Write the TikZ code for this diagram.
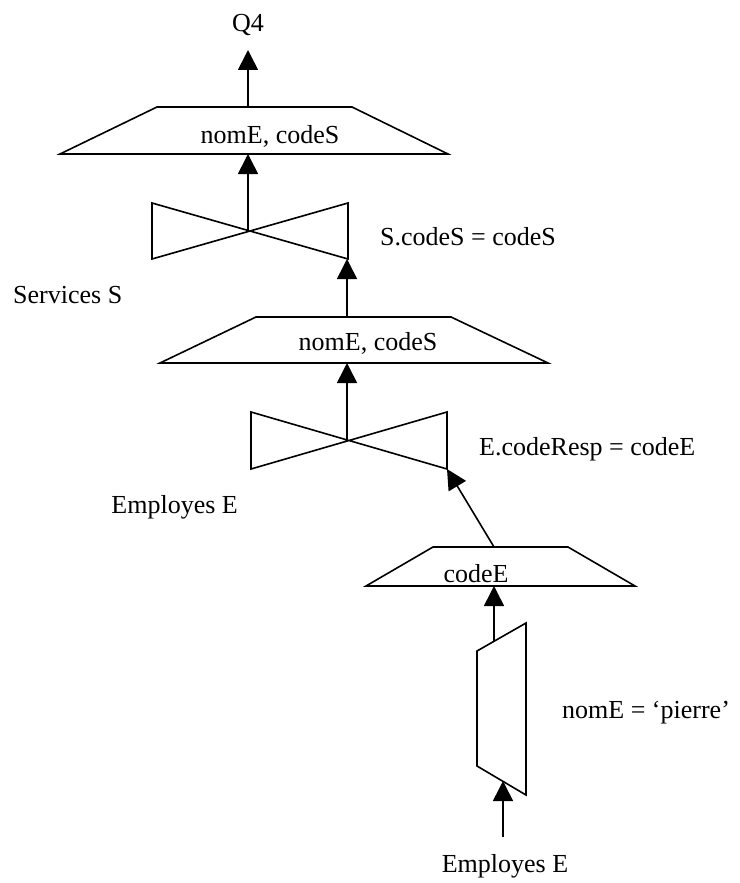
\documentclass[tikz,border=0pt]{standalone}
\usepackage{fontspec}
\setmainfont{Liberation Serif}
\usetikzlibrary{arrows.meta}
\tikzset{
    oplabel/.style = {inner sep=0, font=\fontsize{26}{31}\selectfont, text=black},
    opshape/.style = {line width=1.6pt, draw=black, fill=white, line join=miter},
    edgea/.style = {-{Triangle[length=20pt,width=20pt]}, line width=1.6pt, black}, % flow
}

\begin{document}
\begin{tikzpicture}[x=1pt,y=-1pt]
\useasboundingbox (0,0) rectangle (739,883);

% result
\node[oplabel, anchor=base] at (248, 32) (q4) {Q4};

% projection nomE, codeS (top)
\draw[opshape] (60,154) -- (157,107) -- (352,107) -- (448,154) -- cycle;
\coordinate (p1t) at (248,107);
\coordinate (p1b) at (248,154);
\node[oplabel, anchor=base] at (270,143) (p1) {nomE, codeS};

% join S.codeS = codeS
\draw[opshape] (152,203) -- (348,259) -- (348,203) -- (152,259) -- cycle;
\coordinate (j1) at (248,231);
\coordinate (j1r) at (347,259);
\node[oplabel, anchor=base west] at (380,245) (c1) {S.codeS = codeS};
\node[oplabel, anchor=base west] at ( 13,303) (rs) {Services S};

% projection nomE, codeS
\draw[opshape] (160,363) -- (256,317) -- (451,317) -- (548,363) -- cycle;
\coordinate (p2t) at (347,317);
\coordinate (p2b) at (347,363);
\node[oplabel, anchor=base] at (368,350) (p2) {nomE, codeS};

% join E.codeResp = codeE
\draw[opshape] (251,412) -- (447,469) -- (447,412) -- (251,469) -- cycle;
\coordinate (j2) at (347,440);
\coordinate (j2r) at (447,469);
\node[oplabel, anchor=base west] at (479,455) (c2) {E.codeResp = codeE};
\node[oplabel, anchor=base east] at (238,513) (re1) {Employes E};

% projection codeE
\draw[opshape] (366,586) -- (433,547) -- (568,547) -- (635,586) -- cycle;
\coordinate (p3t) at (494,547);
\coordinate (p3b) at (494,586);
\node[oplabel, anchor=base] at (476,582) (p3) {codeE};

% selection nomE = 'pierre'
\draw[opshape] (477,651) -- (526,623) -- (526,795) -- (477,766) -- cycle;
\coordinate (s1t) at (494,642);
\coordinate (s1b) at (503,781);
\node[oplabel, anchor=base west] at (562,718) (c3) {nomE = ‘pierre’};

% base relation
\node[oplabel, anchor=base] at (505,872) (re2) {Employes E};
\coordinate (re2t) at (503,837);

\draw[edgea] (p1t) -- (248,50);
\draw[edgea] (j1) -- (p1b);
\draw[edgea] (p2t) -- (j1r);
\draw[edgea] (j2) -- (p2b);
\draw[edgea] (p3t) -- (j2r);
\draw[edgea] (s1t) -- (p3b);
\draw[edgea] (re2t) -- (s1b);

\end{tikzpicture}
\end{document}
